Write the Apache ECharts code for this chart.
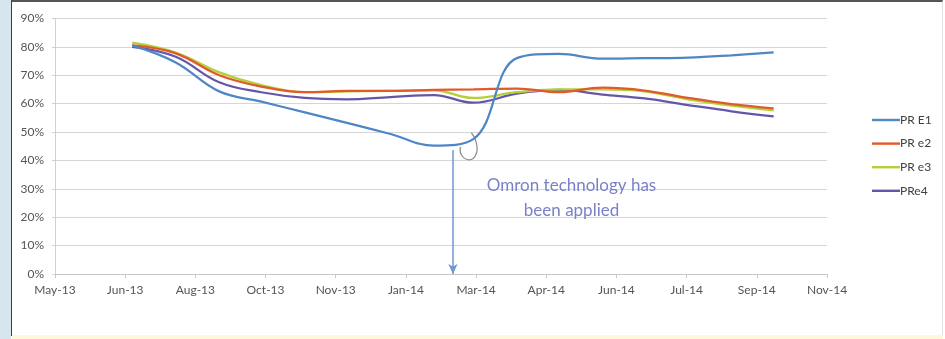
<!DOCTYPE html>
<html>
<head>
<meta charset="utf-8">
<script src="https://cdn.jsdelivr.net/npm/echarts@6/dist/echarts.min.js"></script>
<style>
  html, body { margin: 0; padding: 0; width: 945px; height: 339px; overflow: hidden; background: #ffffff; }
  #leftStrip { position: absolute; left: 0; top: 0; width: 11px; height: 339px; background: #d6e5ee; }
  #frame { position: absolute; left: 11px; top: 0; width: 932px; height: 336px; box-sizing: border-box;
           border-left: 1px solid #3c3c3c; border-top: 2px solid #555; border-right: 1px solid #e2e2e2; background: #fff; }
  #bottomStrip { position: absolute; left: 12px; top: 335px; width: 931px; height: 4px; background: #fdf7dc; }
  #chart { position: absolute; left: 0; top: 0; width: 945px; height: 339px; }
</style>
</head>
<body>
<div id="leftStrip"></div>
<div id="frame"></div>
<div id="bottomStrip"></div>
<div id="chart"></div>
<script>
// ---- data ----
const dates = ['2013-06-30','2013-07-31','2013-08-31','2013-09-30','2013-10-31','2013-11-30','2013-12-31',
               '2014-01-31','2014-02-28','2014-03-31','2014-04-30','2014-05-31','2014-06-30','2014-07-31',
               '2014-08-31','2014-09-30'];
const seriesNames = ['PR E1', 'PR e2', 'PR e3', 'PRe4'];
const prE1 = [80.5, 74.5, 64.3, 60.7, 56.9, 53.2, 49.3, 45.2, 47.5, 76.0, 77.5, 75.8, 76.0, 76.2, 77.0, 78.0];
const prE2 = [80.5, 77.7, 70.0, 66.0, 64.0, 64.5, 64.5, 64.8, 65.0, 65.3, 64.0, 65.6, 64.6, 62.0, 59.8, 58.3];
const prE3 = [81.5, 78.0, 71.0, 66.5, 64.0, 64.3, 64.5, 64.7, 62.0, 64.0, 65.0, 65.0, 64.3, 61.5, 59.3, 57.6];
const prE4 = [80.0, 76.5, 67.5, 64.0, 62.0, 61.5, 62.3, 63.0, 60.3, 63.5, 64.8, 63.2, 61.8, 59.5, 57.3, 55.5];
// x axis (Excel date serials) and y axis ticks
const xMinSerial = 41400, xMaxSerial = 41950, xStepDays = 50;
const yTicks = [0, 10, 20, 30, 40, 50, 60, 70, 80, 90];
// annotation
const annotationLines = ['Omron technology has', 'been applied'];
const arrowDate = 41683.5, arrowTop = 43.7, arrowBottom = 0;
const textDate = 41768, textValue = 31.3;

// ---- helpers ----
const EXCEL_EPOCH = Date.UTC(1899, 11, 30);
const DAY = 86400000;
const MONTHS = ['Jan','Feb','Mar','Apr','May','Jun','Jul','Aug','Sep','Oct','Nov','Dec'];
function toSerial(s) { return Math.round((Date.parse(s + 'T00:00:00Z') - EXCEL_EPOCH) / DAY); }
function serialLabel(v) {
  const d = new Date(EXCEL_EPOCH + v * DAY);
  return MONTHS[d.getUTCMonth()] + '-' + String(d.getUTCFullYear()).slice(2);
}
function pairs(vals) { return vals.map((v, i) => [toSerial(dates[i]), v]); }

const FONT = 'Lato, "Open Sans", sans-serif';
const colors = ['#4f86c6', '#e05a2a', '#b3cf3a', '#6656a8'];

const chart = echarts.init(document.getElementById('chart'), null, { renderer: 'canvas' });

function mkSeries(name, vals, idx, extra) {
  return Object.assign({
    name: name,
    type: 'line',
    data: pairs(vals),
    smooth: 0.4,
    symbol: 'none',
    showSymbol: false,
    lineStyle: { width: 2.25, color: colors[idx] },
    itemStyle: { color: colors[idx] },
    z: 3 + (3 - idx),
    emphasis: { disabled: true }
  }, extra || {});
}

const option = {
  animation: false,
  backgroundColor: 'transparent',
  textStyle: { fontFamily: FONT },
  grid: { left: 55, right: 118, top: 18.4, bottom: 65, containLabel: false },
  legend: {
    orient: 'vertical',
    left: 867, top: 109,
    itemWidth: 28, itemHeight: 14, itemGap: 11.6,
    textStyle: { fontSize: 12, color: '#404040', fontFamily: FONT, padding: [0, 0, 0, -5] },
    data: seriesNames.map(n => ({ name: n, icon: 'path://M0,0 L28,0 L28,2.4 L0,2.4 Z' })),
    selectedMode: false
  },
  xAxis: {
    type: 'value',
    min: xMinSerial, max: xMaxSerial, interval: xStepDays,
    axisLine: { show: true, lineStyle: { color: '#c8c8c8', width: 1 } },
    axisTick: { show: true, length: 4, lineStyle: { color: '#c8c8c8' } },
    splitLine: { show: false },
    axisLabel: { formatter: serialLabel, color: '#555', fontSize: 12, margin: 10, fontFamily: FONT }
  },
  yAxis: {
    type: 'value',
    min: yTicks[0], max: yTicks[yTicks.length - 1], interval: yTicks[1] - yTicks[0],
    axisLine: { show: true, lineStyle: { color: '#d0d0d0' } },
    axisTick: { show: true, length: 3, lineStyle: { color: '#d0d0d0' } },
    splitLine: { show: true, lineStyle: { color: '#d6d6d6', width: 1 } },
    axisLabel: { formatter: '{value}%', color: '#555', fontSize: 12, margin: 11, fontFamily: FONT }
  },
  series: [
    mkSeries(seriesNames[0], prE1, 0, {
      markLine: {
        silent: true,
        symbol: ['none', 'arrow'],
        symbolSize: [7, 10],
        label: { show: false },
        lineStyle: { color: '#7096d4', width: 1.5, type: 'solid' },
        data: [[{ coord: [arrowDate, arrowTop] }, { coord: [arrowDate, arrowBottom] }]]
      }
    }),
    mkSeries(seriesNames[1], prE2, 1),
    mkSeries(seriesNames[2], prE3, 2),
    mkSeries(seriesNames[3], prE4, 3)
  ]
};
chart.setOption(option);

// annotation text and hand-drawn loop, anchored via the axes
const tp = chart.convertToPixel({ gridIndex: 0 }, [textDate, textValue]);
const lp = chart.convertToPixel({ gridIndex: 0 }, [arrowDate + 6, 44.8]);
chart.setOption({
  graphic: [
    {
      type: 'text', x: tp[0], y: tp[1], silent: true,
      style: { text: annotationLines[0], fill: '#7a80c8', font: '17px ' + FONT, textAlign: 'center', textVerticalAlign: 'middle' }
    },
    {
      type: 'text', x: tp[0], y: tp[1] + 25, silent: true,
      style: { text: annotationLines[1], fill: '#7a80c8', font: '17px ' + FONT, textAlign: 'center', textVerticalAlign: 'middle' }
    },
    {
      type: 'polyline', x: lp[0], y: lp[1], silent: true,
      shape: { points: [[10, -14], [15, -4], [14, 9], [7, 13], [0, 8], [-1, 0]], smooth: 0.5 },
      style: { stroke: '#8c8c8c', lineWidth: 1.2, fill: null }
    }
  ]
});
</script>
</body>
</html>
